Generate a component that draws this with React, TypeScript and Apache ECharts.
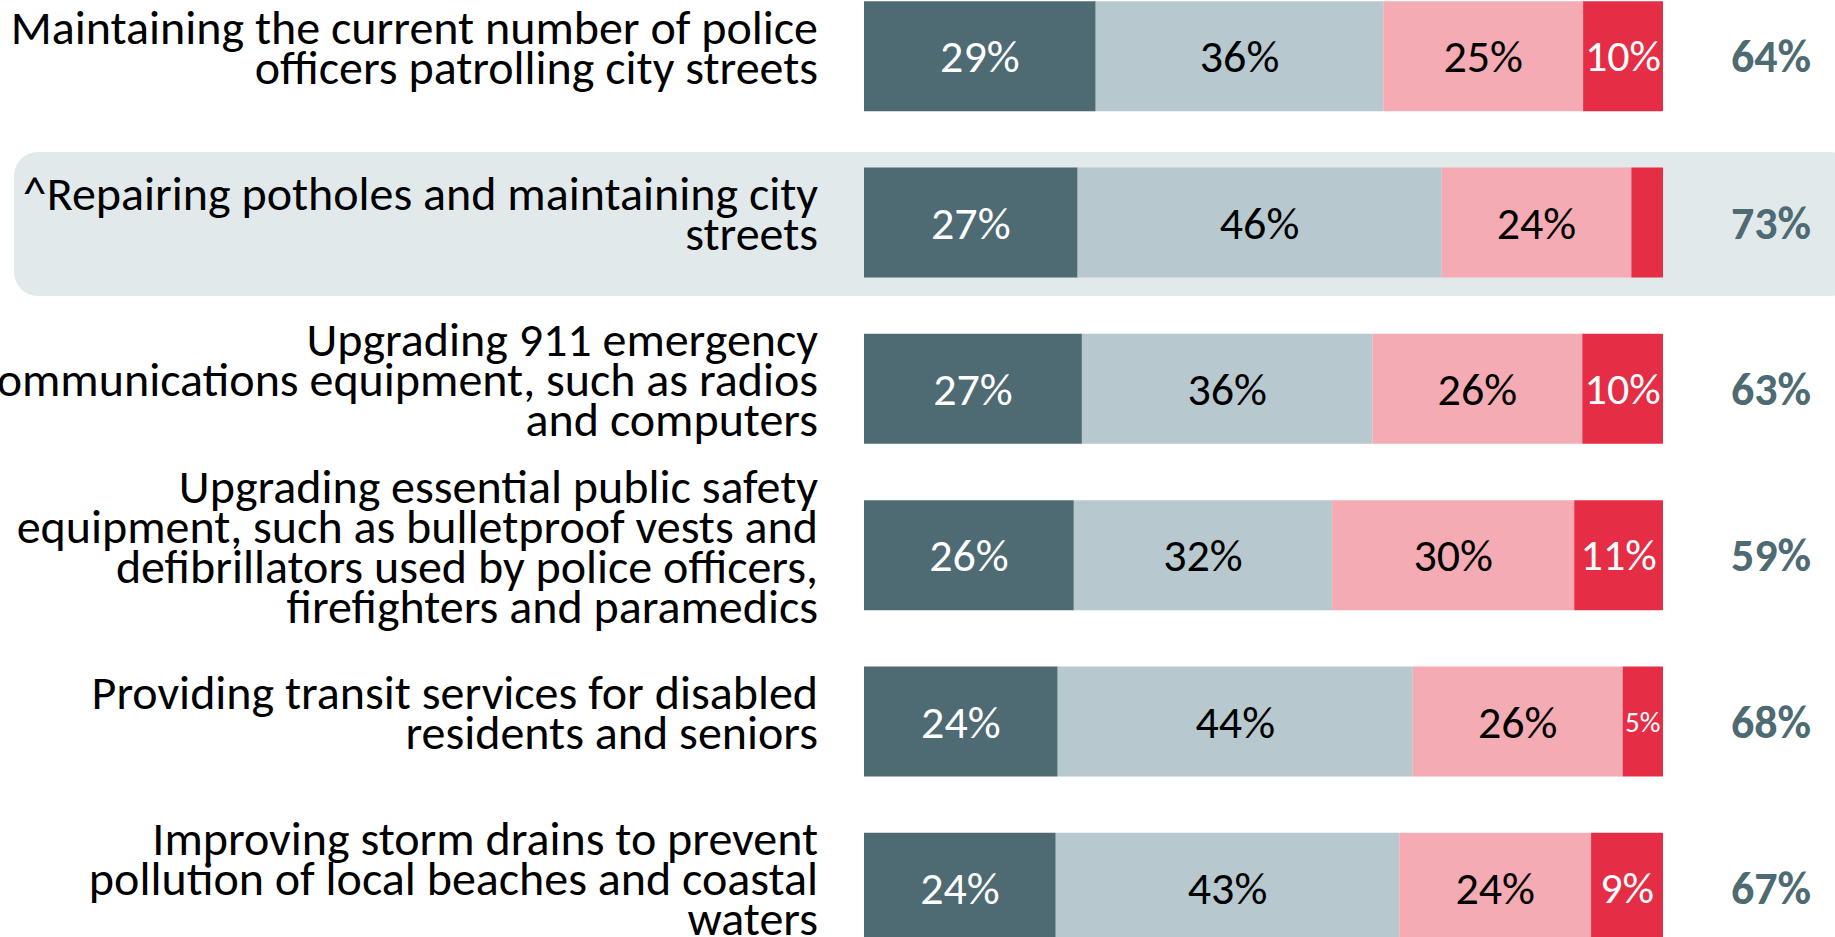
import React, { useEffect, useRef } from "react";
import * as echarts from "echarts";

const categories = [
  "Maintaining the current number of police\nofficers patrolling city streets",
  "^Repairing potholes and maintaining city\nstreets",
  "Upgrading 911 emergency\ncommunications equipment, such as radios\nand computers",
  "Upgrading essential public safety\nequipment, such as bulletproof vests and\ndefibrillators used by police officers,\nfirefighters and paramedics",
  "Providing transit services for disabled\nresidents and seniors",
  "Improving storm drains to prevent\npollution of local beaches and coastal\nwaters",
];
const darkValues = [29, 27, 27, 26, 24, 24];
const lightValues = [36, 46, 36, 32, 44, 43];
const pinkValues = [25, 24, 26, 30, 26, 24];
const redValues = [10, 4, 10, 11, 5, 9];
const redShowLabel = [true, false, true, true, true, true];
const redLabelSizes = [44, 44, 44, 44, 29, 44];
const totals = ["64%", "73%", "63%", "59%", "68%", "67%"];

const FONT = "'Carlito', 'Liberation Sans Narrow', 'Open Sans', 'Liberation Sans', sans-serif";
const COLORS = { dark: "#4e6a73", light: "#b7c8ce", pink: "#f4abb3", red: "#e52e45", hl: "#e1e9eb" };

const OFFSET = 27; // chart canvas starts above the viewport so the first band is partly cut

export default function App() {
  const ref = useRef<HTMLDivElement>(null);
  useEffect(() => {
    if (!ref.current) return;
    const chart = echarts.init(ref.current, null, { renderer: "svg" });
    const rowSums = darkValues.map((_, i) => darkValues[i] + lightValues[i] + pinkValues[i] + redValues[i]);
    const seg = (name: string, data: number[], color: string, labelColor: string, show?: boolean[], sizes?: number[]) => ({
      name,
      type: "bar",
      stack: "all",
      barWidth: 110,
      data: data.map((v, i) => ({
        value: (v / rowSums[i]) * 100,
        raw: v,
        label: {
          show: show ? show[i] : true,
          fontSize: sizes ? sizes[i] : 46,
        },
      })),
      itemStyle: { color },
      label: {
        show: true,
        position: "inside",
        formatter: (p: any) => `${p.data.raw}%`,
        color: labelColor,
        fontFamily: FONT,
        fontSize: 46,
      },
    });
    chart.setOption({
      animation: false,
      backgroundColor: "#ffffff",
      graphic: [
        {
          type: "rect",
          z: -10,
          shape: { x: 14, y: 152 + OFFSET, width: 1840, height: 144, r: 24 },
          style: { fill: COLORS.hl },
        },
      ],
      grid: { left: 864, width: 799, top: 0, height: 998, outerBoundsMode: "none", containLabel: false },
      xAxis: { type: "value", min: 0, max: 100, show: false },
      yAxis: [
        {
          type: "category",
          inverse: true,
          data: categories,
          axisLine: { show: false },
          axisTick: { show: false },
          axisLabel: {
            interval: 0,
            margin: 46,
            fontFamily: FONT,
            fontSize: 48,
            lineHeight: 40,
            color: "#000000",
            align: "right",
            formatter: (v: string) => `${v}\n{g|}`,
            rich: { g: { height: 18, lineHeight: 18, fontSize: 10 } },
          },
        },
        {
          type: "category",
          inverse: true,
          position: "right",
          data: totals,
          axisLine: { show: false },
          axisTick: { show: false },
          axisLabel: {
            interval: 0,
            margin: 108,
            align: "center",
            fontFamily: FONT,
            fontSize: 46,
            fontWeight: "bold",
            color: COLORS.dark,
          },
        },
      ],
      series: [
        seg("dark", darkValues, COLORS.dark, "#ffffff"),
        seg("light", lightValues, COLORS.light, "#000000"),
        seg("pink", pinkValues, COLORS.pink, "#000000"),
        seg("red", redValues, COLORS.red, "#ffffff", redShowLabel, redLabelSizes),
      ],
    });
    return () => chart.dispose();
  }, []);
  return (
    <div
      ref={ref}
      style={{ position: "fixed", left: 0, top: -OFFSET, width: 1835, height: 1000, background: "#fff" }}
    />
  );
}
